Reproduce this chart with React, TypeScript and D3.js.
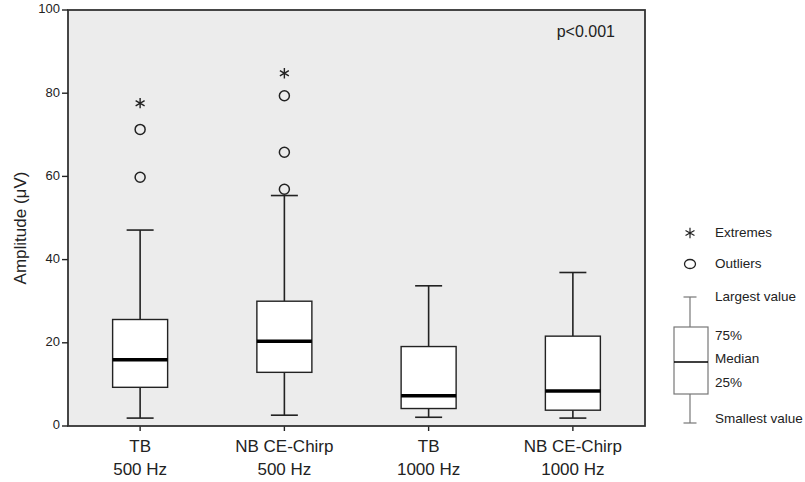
import { scaleBand, scaleLinear, symbol, symbolAsterisk } from "d3";

const width = 805;
const height = 482;
const margin = { top: 10, right: 160, bottom: 56, left: 68 };

const stimulus = ["TB", "NB CE-Chirp", "TB", "NB CE-Chirp"];
const frequency = ["500 Hz", "500 Hz", "1000 Hz", "1000 Hz"];
const whiskerLow = [1.9, 2.6, 2.1, 1.9];
const q1 = [9.3, 12.9, 4.2, 3.8];
const medians = [15.9, 20.4, 7.3, 8.4];
const q3 = [25.6, 30.0, 19.1, 21.6];
const whiskerHigh = [47.1, 55.4, 33.7, 36.9];
const outliers = [[71.3, 59.8], [79.4, 65.8, 56.9], [], []];
const extremes = [[77.6], [84.8], [], []];
const yTicks = [0, 20, 40, 60, 80, 100];

const font = "Liberation Sans, Arial, sans-serif";
const ink = "#222";

const App = () => {
  const innerWidth = width - margin.left - margin.right;
  const innerHeight = height - margin.top - margin.bottom;

  const xScale = scaleBand<number>()
    .domain(stimulus.map((d, i) => i))
    .range([0, innerWidth])
    .padding(0);
  const yScale = scaleLinear().domain([0, 100]).range([innerHeight, 0]);

  const boxWidth = 55;
  const capWidth = 27;
  const star = symbol().type(symbolAsterisk).size(75)();

  return (
    <svg
      width={width}
      height={height}
      style={{ position: "absolute", left: 0, top: 0, background: "#fff" }}
      fontFamily={font}
    >
      <g transform={`translate(${margin.left},${margin.top})`}>
        <rect width={innerWidth} height={innerHeight} fill="#ececec" />

        {stimulus.map((s, i) => {
          const cx = xScale(i)! + xScale.bandwidth() / 2;
          return (
            <g key={i}>
              <line x1={cx} x2={cx} y1={yScale(whiskerHigh[i])} y2={yScale(q3[i])} stroke={ink} strokeWidth={1.6} />
              <line x1={cx} x2={cx} y1={yScale(q1[i])} y2={yScale(whiskerLow[i])} stroke={ink} strokeWidth={1.6} />
              <line x1={cx - capWidth / 2} x2={cx + capWidth / 2} y1={yScale(whiskerHigh[i])} y2={yScale(whiskerHigh[i])} stroke={ink} strokeWidth={1.6} />
              <line x1={cx - capWidth / 2} x2={cx + capWidth / 2} y1={yScale(whiskerLow[i])} y2={yScale(whiskerLow[i])} stroke={ink} strokeWidth={1.6} />
              <rect
                x={cx - boxWidth / 2}
                y={yScale(q3[i])}
                width={boxWidth}
                height={yScale(q1[i]) - yScale(q3[i])}
                fill="#fff"
                stroke={ink}
                strokeWidth={1.4}
              />
              <line x1={cx - boxWidth / 2} x2={cx + boxWidth / 2} y1={yScale(medians[i])} y2={yScale(medians[i])} stroke="#000" strokeWidth={3.5} />
              {outliers[i].map((v, j) => (
                <circle key={j} cx={cx} cy={yScale(v)} r={5} fill="none" stroke={ink} strokeWidth={1.5} />
              ))}
              {extremes[i].map((v, j) => (
                <path key={j} d={star!} transform={`translate(${cx},${yScale(v)})`} fill={ink} stroke={ink} strokeWidth={1.4} />
              ))}
              <line x1={cx} x2={cx} y1={innerHeight} y2={innerHeight + 5} stroke={ink} strokeWidth={1.4} />
              <text x={cx} y={innerHeight + 26} textAnchor="middle" fontSize={17} fill={ink}>{s}</text>
              <text x={cx} y={innerHeight + 49} textAnchor="middle" fontSize={17} fill={ink}>{frequency[i]}</text>
            </g>
          );
        })}

        <rect width={innerWidth} height={innerHeight} fill="none" stroke="#333" strokeWidth={1.8} />

        {yTicks.map((t) => (
          <g key={t} transform={`translate(0,${yScale(t)})`}>
            <line x1={-6} x2={0} stroke={ink} strokeWidth={1.4} />
            <text x={-8} textAnchor="end" dominantBaseline="middle" fontSize={13} fill={ink}>{t}</text>
          </g>
        ))}

        <text
          transform={`translate(-42,${innerHeight / 2 + 10}) rotate(-90)`}
          textAnchor="middle"
          fontSize={17}
          fill={ink}
        >
          Amplitude (μV)
        </text>

        <text x={innerWidth - 30} y={27} textAnchor="end" fontSize={16} fill={ink}>p&lt;0.001</text>
      </g>

      <g transform="translate(690,0)" fontSize={13.5} fill={ink}>
        <path d={star!} transform="translate(0,233)" fill={ink} stroke={ink} strokeWidth={1.2} />
        <text x={25} y={233} dominantBaseline="middle">Extremes</text>
        <ellipse cx={0} cy={264} rx={5.5} ry={4.5} fill="none" stroke={ink} strokeWidth={1.3} />
        <text x={25} y={264} dominantBaseline="middle">Outliers</text>
        <line x1={-6.5} x2={6.5} y1={297} y2={297} stroke="#777" strokeWidth={1.2} />
        <line x1={0} x2={0} y1={297} y2={327} stroke="#777" strokeWidth={1.2} />
        <rect x={-16} y={327} width={34} height={67} fill="#fff" stroke="#777" strokeWidth={1.2} />
        <line x1={-16} x2={18} y1={362} y2={362} stroke="#000" strokeWidth={1.4} />
        <line x1={0} x2={0} y1={394} y2={423} stroke="#777" strokeWidth={1.2} />
        <line x1={-6.5} x2={6.5} y1={423} y2={423} stroke="#777" strokeWidth={1.2} />
        <text x={25} y={297} dominantBaseline="middle">Largest value</text>
        <text x={25} y={336} dominantBaseline="middle">75%</text>
        <text x={25} y={359} dominantBaseline="middle">Median</text>
        <text x={25} y={383} dominantBaseline="middle">25%</text>
        <text x={25} y={419} dominantBaseline="middle">Smallest value</text>
      </g>
    </svg>
  );
};

export default App;
